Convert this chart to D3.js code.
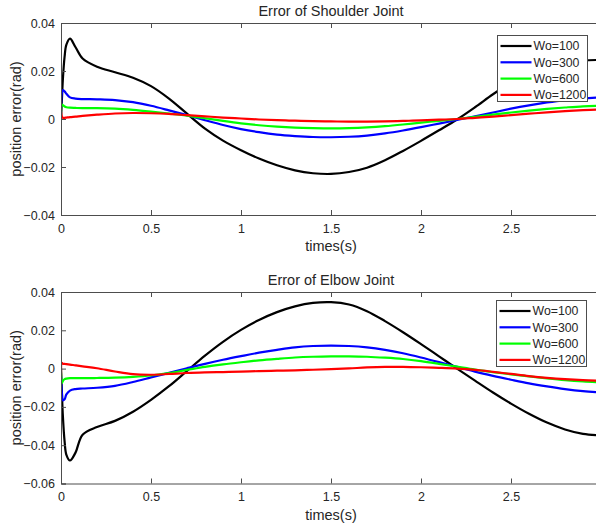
<!DOCTYPE html>
<html>
<head>
<meta charset="utf-8">
<script src="https://cdn.jsdelivr.net/npm/d3@7"></script>
<style>
  body { margin: 0; background: #fff; }
  svg { display: block; font-family: "Liberation Sans", Arial, sans-serif; }
</style>
</head>
<body>
<svg id="chart" width="596" height="530"></svg>
<script>
// time samples (s), dense at the start to catch the transient
var times = [0, 0.005, 0.01, 0.02, 0.03, 0.05, 0.08, 0.12, 0.2, 0.3, 0.4, 0.5, 0.6, 0.7, 0.8, 0.9,
    1.0, 1.1, 1.2, 1.3, 1.4, 1.5, 1.6, 1.7, 1.8, 1.9, 2.0, 2.1, 2.2, 2.3, 2.4, 2.5, 2.6, 2.7, 2.8, 2.9, 3.0];

var seriesNames = ["Wo=100", "Wo=300", "Wo=600", "Wo=1200"];
var seriesColors = ["#000000", "#0000ff", "#00ff00", "#ff0000"];

// shoulder joint error (rad)
var shoulder100 = [0, 0.008, 0.016, 0.026, 0.031, 0.0335, 0.030, 0.0252, 0.0218, 0.0195, 0.0172, 0.0137, 0.0085, 0.0022, -0.004, -0.009,
    -0.013, -0.0165, -0.0193, -0.0214, -0.0226, -0.0229, -0.0221, -0.0203, -0.0172, -0.0133, -0.0091, -0.0047, -0.0002, 0.0049, 0.0103, 0.0152, 0.0192, 0.0221, 0.0236, 0.0244, 0.0246];
var shoulder300 = [0.004, 0.011, 0.012, 0.0115, 0.0105, 0.009, 0.0085, 0.0083, 0.0082, 0.0079, 0.007, 0.0055, 0.0036, 0.0016, -0.0005, -0.0025,
    -0.0042, -0.0055, -0.0065, -0.0071, -0.0075, -0.0076, -0.0074, -0.0069, -0.006, -0.0048, -0.0034, -0.0019, -0.0004, 0.0011, 0.0027, 0.0043, 0.0057, 0.0069, 0.0079, 0.0086, 0.009];
var shoulder600 = [0.003, 0.006, 0.0058, 0.0052, 0.0049, 0.0047, 0.0046, 0.0045, 0.0045, 0.0043, 0.0038, 0.0031, 0.0023, 0.0014, 0.0003, -0.0008,
    -0.0018, -0.0026, -0.0032, -0.0036, -0.0038, -0.0039, -0.0038, -0.0035, -0.003, -0.0023, -0.0015, -0.0008, 0, 0.0009, 0.0018, 0.0027, 0.0035, 0.0042, 0.0048, 0.0053, 0.0055];
var shoulder1200 = [0.003, 0.001, 0.0005, 0.0005, 0.0006, 0.0008, 0.001, 0.0013, 0.0018, 0.0023, 0.0025, 0.0024, 0.0021, 0.0016, 0.0011, 0.0006,
    0.0002, -0.0002, -0.0005, -0.0007, -0.0009, -0.001, -0.0011, -0.0011, -0.001, -0.0008, -0.0006, -0.0003, 0, 0.0005, 0.001, 0.0016, 0.0022, 0.0028, 0.0033, 0.0037, 0.004];

// elbow joint error (rad)
var elbow100 = [0, -0.012, -0.024, -0.038, -0.045, -0.048, -0.044, -0.0345, -0.0305, -0.0273, -0.0225, -0.0163, -0.0092, -0.0012, 0.0068, 0.014,
    0.0202, 0.0254, 0.0295, 0.0325, 0.0343, 0.0347, 0.0335, 0.030, 0.0248, 0.019, 0.0128, 0.0064, 0, -0.0063, -0.0125, -0.0183, -0.0236, -0.0282, -0.0318, -0.0341, -0.0349];
var elbow300 = [-0.004, -0.013, -0.0165, -0.016, -0.0135, -0.0115, -0.0107, -0.0104, -0.010, -0.009, -0.007, -0.0046, -0.0022, 0.0002, 0.0025, 0.0046,
    0.0065, 0.0083, 0.0098, 0.0111, 0.0118, 0.012, 0.0118, 0.0111, 0.0098, 0.008, 0.0058, 0.0034, 0.0009, -0.0016, -0.0038, -0.0058, -0.0077, -0.0093, -0.0107, -0.0118, -0.0125];
var elbow600 = [-0.002, -0.0075, -0.0065, -0.0055, -0.0052, -0.005, -0.005, -0.005, -0.0049, -0.0047, -0.0043, -0.0036, -0.0023, -0.0007, 0.0009, 0.0022,
    0.0033, 0.0043, 0.0051, 0.0058, 0.0062, 0.0064, 0.0064, 0.0062, 0.0057, 0.005, 0.0039, 0.0025, 0.001, -0.0005, -0.0018, -0.003, -0.0041, -0.0051, -0.006, -0.0067, -0.0072];
var elbow1200 = [-0.004, 0.003, 0.0025, 0.0025, 0.0023, 0.0021, 0.0017, 0.0012, 0.0002, -0.0015, -0.0029, -0.0032, -0.0028, -0.0023, -0.002, -0.0018,
    -0.0016, -0.0013, -0.0011, -0.0009, -0.0006, -0.0003, 0.0001, 0.0006, 0.0009, 0.0009, 0.0007, 0.0004, 0, -0.0007, -0.0017, -0.0028, -0.0039, -0.0048, -0.0055, -0.006, -0.0063];

var xTicks = [0, 0.5, 1, 1.5, 2, 2.5];
var yTicksShoulder = [-0.04, -0.02, 0, 0.02, 0.04];
var yTicksElbow = [-0.06, -0.04, -0.02, 0, 0.02, 0.04];

var AXIS_COLOR = "#4d4d4d";
var TEXT_COLOR = "#262626";
var TICK_LEN = 5;

var svg = d3.select("#chart");

function drawPanel(opts) {
    var left = 61, width = 540;
    var x = d3.scaleLinear().domain([0, 3]).range([left, left + width]);
    var y = d3.scaleLinear().domain(opts.yDomain).range([opts.bottom, opts.top]);
    var g = svg.append("g");

    var clipId = "clip" + opts.id;
    svg.append("clipPath").attr("id", clipId)
        .append("rect")
        .attr("x", left).attr("y", opts.top)
        .attr("width", width).attr("height", opts.bottom - opts.top);

    // lines
    var line = d3.line()
        .x(function(d, i) { return x(times[i]); })
        .y(function(d) { return y(d); })
        .curve(d3.curveCatmullRom.alpha(0.5));
    var lines = g.append("g").attr("clip-path", "url(#" + clipId + ")");
    opts.series.forEach(function(values, i) {
        lines.append("path")
            .attr("d", line(values))
            .attr("fill", "none")
            .attr("stroke", seriesColors[i])
            .attr("stroke-width", 2.2)
            .attr("stroke-linejoin", "round");
    });

    // axes, ticks inward on all four sides
    var bottomAxis = d3.axisBottom(x).tickValues(xTicks).tickSize(-TICK_LEN).tickPadding(9).tickFormat(d3.format("~g"));
    var topAxis = d3.axisTop(x).tickValues(xTicks).tickSize(-TICK_LEN).tickFormat("");
    var leftAxis = d3.axisLeft(y).tickValues(opts.yTicks).tickSize(-TICK_LEN).tickPadding(6).tickFormat(d3.format("~g"));
    var rightAxis = d3.axisRight(y).tickValues(opts.yTicks).tickSize(-TICK_LEN).tickFormat("");

    var axes = [
        g.append("g").attr("transform", "translate(0," + opts.bottom + ")").call(bottomAxis),
        g.append("g").attr("transform", "translate(0," + opts.top + ")").call(topAxis),
        g.append("g").attr("transform", "translate(" + left + ",0)").call(leftAxis),
        g.append("g").attr("transform", "translate(" + (left + width) + ",0)").call(rightAxis)
    ];
    axes.forEach(function(a) {
        a.select(".domain").attr("stroke", AXIS_COLOR).attr("stroke-width", 1);
        a.selectAll(".tick line").attr("stroke", AXIS_COLOR);
        a.selectAll(".tick text").attr("fill", TEXT_COLOR).style("font-size", "12.5px");
        a.attr("font-family", null);
    });

    // title and labels
    g.append("text")
        .attr("x", x(1.5)).attr("y", opts.top - 7)
        .attr("text-anchor", "middle").attr("fill", TEXT_COLOR)
        .style("font-size", "14.5px")
        .text(opts.title);
    g.append("text")
        .attr("x", x(1.5)).attr("y", opts.bottom + 36)
        .attr("text-anchor", "middle").attr("fill", TEXT_COLOR)
        .style("font-size", "14.5px")
        .text("times(s)");
    g.append("text")
        .attr("transform", "translate(21," + ((opts.top + opts.bottom) / 2) + ") rotate(-90)")
        .attr("text-anchor", "middle").attr("fill", TEXT_COLOR)
        .style("font-size", "14.5px")
        .text("position error(rad)");

    // legend
    var lg = g.append("g").attr("transform", "translate(" + opts.legendX + "," + opts.legendY + ")");
    lg.append("rect")
        .attr("x", 0).attr("y", 0).attr("width", 90).attr("height", 66)
        .attr("fill", "#fff").attr("stroke", AXIS_COLOR).attr("stroke-width", 1);
    seriesNames.forEach(function(name, i) {
        var yy = 10.5 + i * 16.3;
        lg.append("line")
            .attr("x1", 3).attr("x2", 34).attr("y1", yy).attr("y2", yy)
            .attr("stroke", seriesColors[i]).attr("stroke-width", 2.2);
        lg.append("text")
            .attr("x", 36).attr("y", yy + 4.3)
            .attr("fill", TEXT_COLOR).style("font-size", "12.3px")
            .text(name);
    });
}

drawPanel({
    id: "shoulder", title: "Error of Shoulder Joint",
    top: 23, bottom: 215, yDomain: [-0.04, 0.04], yTicks: yTicksShoulder,
    series: [shoulder100, shoulder300, shoulder600, shoulder1200],
    legendX: 497.5, legendY: 35.5
});
drawPanel({
    id: "elbow", title: "Error of Elbow Joint",
    top: 292, bottom: 483.5, yDomain: [-0.06, 0.04], yTicks: yTicksElbow,
    series: [elbow100, elbow300, elbow600, elbow1200],
    legendX: 496.5, legendY: 300.5
});
</script>
</body>
</html>
